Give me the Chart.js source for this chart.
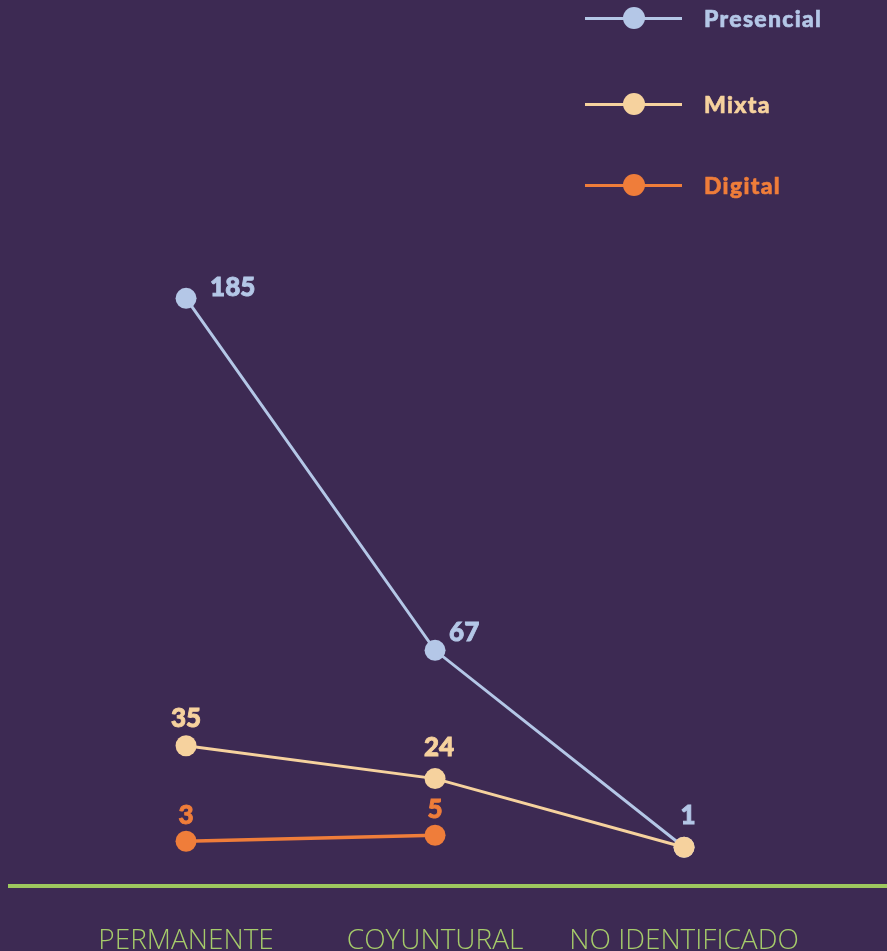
<!DOCTYPE html>
<html>
<head>
<meta charset="utf-8">
<script src="https://cdn.jsdelivr.net/npm/chart.js@4/dist/chart.umd.min.js"></script>
<style>
  html, body { margin: 0; padding: 0; background: #3d2a53; }
  #wrap { position: relative; width: 887px; height: 951px; }
  #legend { position: absolute; left: 585px; top: 0; font-family: Lato, sans-serif; font-weight: 900; font-size: 23px; letter-spacing: 1.3px; -webkit-text-stroke: 0.6px; }
  .item { position: absolute; left: 0; height: 30px; white-space: nowrap; }
  .item .ln { position: absolute; left: 0; top: 14px; width: 97px; height: 3px; }
  .item .dot { position: absolute; left: 38px; top: 4px; width: 22px; height: 22px; border-radius: 50%; }
  .item .tx { position: absolute; left: 119px; top: 0; line-height: 30px; }
</style>
</head>
<body>
<div id="wrap">
  <canvas id="myChart" width="887" height="951"></canvas>
  <div id="legend"></div>
</div>
<script>
'use strict';

let categories = ['PERMANENTE', 'COYUNTURAL', 'NO IDENTIFICADO'];
let seriesNames = ['Presencial', 'Mixta', 'Digital'];
let presencial = [185, 67, 1];
let mixta = [35, 24, 1];
let digital = [3, 5, null];

let colors = ['#b4c7e7', '#f6d29e', '#ef7d3a'];
let legendTops = [3, 89, 170];

// label offsets from each point [dx, dy, align], null = no label
let labelOffsets = [
    [[24, -11, 'left'], [14, -18, 'left'], [4, -32, 'center']],
    [[0, -27, 'center'], [4, -31, 'center'], null],
    [[0, -26, 'center'], [0, -26, 'center'], null]
];

let legendEl = document.getElementById('legend');
for (let i = 0; i < seriesNames.length; i++) {
    let item = document.createElement('div');
    item.className = 'item';
    item.style.top = legendTops[i] + 'px';
    item.innerHTML = '<div class="ln" style="background:' + colors[i] + '"></div>' +
        '<div class="dot" style="background:' + colors[i] + '"></div>' +
        '<div class="tx" style="color:' + colors[i] + '">' + seriesNames[i] + '</div>';
    legendEl.appendChild(item);
}

function toPoints(arr) {
    return arr.map(function (v, i) { return { x: i, y: v }; });
}

let valueLabels = {
    id: 'valueLabels',
    afterDatasetsDraw(chart) {
        let ctx = chart.ctx;
        ctx.save();
        ctx.font = '900 26px Lato, sans-serif';
        ctx.textBaseline = 'middle';
        ctx.lineWidth = 0.9;
        chart.data.datasets.forEach(function (ds, d) {
            let meta = chart.getDatasetMeta(d);
            meta.data.forEach(function (pt, i) {
                let v = ds.data[i].y;
                let off = labelOffsets[d][i];
                if (v === null || !off) return;
                ctx.fillStyle = colors[d];
                ctx.strokeStyle = colors[d];
                ctx.textAlign = off[2];
                ctx.fillText(String(v), pt.x + off[0], pt.y + off[1]);
                ctx.strokeText(String(v), pt.x + off[0], pt.y + off[1]);
            });
        });
        ctx.restore();
    }
};

let allSeries = [presencial, mixta, digital];
let drawOrder = [2, 1, 3];
let datasets = [];
for (let i = 0; i < allSeries.length; i++) {
    datasets.push({
        label: seriesNames[i],
        data: toPoints(allSeries[i]),
        borderColor: colors[i],
        backgroundColor: colors[i],
        borderWidth: i === 2 ? 3.5 : 3,
        pointRadius: 10.5,
        pointBorderWidth: 0,
        pointHoverRadius: 10.5,
        order: drawOrder[i],
        clip: false
    });
}

let ctx = document.getElementById('myChart').getContext('2d');
let myChart = new Chart(ctx, {
    type: 'line',
    data: { datasets: datasets },
    options: {
        responsive: false,
        animation: false,
        layout: { autoPadding: false, padding: { left: 10, right: 0, top: 0, bottom: 0 } },
        plugins: {
            legend: { display: false },
            tooltip: { enabled: false }
        },
        scales: {
            x: {
                type: 'linear',
                min: -0.707,
                max: 2.815,
                afterBuildTicks: function (scale) {
                    scale.ticks = categories.map(function (c, i) { return { value: i }; });
                },
                afterFit: function (scale) {
                    scale.height = 65;
                },
                ticks: {
                    color: '#a6cc6a',
                    padding: 30,
                    font: { family: 'Open Sans', size: 28, weight: 300 },
                    callback: function (value) { return categories[value]; }
                },
                grid: { display: false },
                border: { display: true, color: '#9dc85e', width: 4 }
            },
            y: {
                display: false,
                min: -12,
                max: 285
            }
        }
    },
    plugins: [valueLabels]
});
</script>
</body>
</html>
